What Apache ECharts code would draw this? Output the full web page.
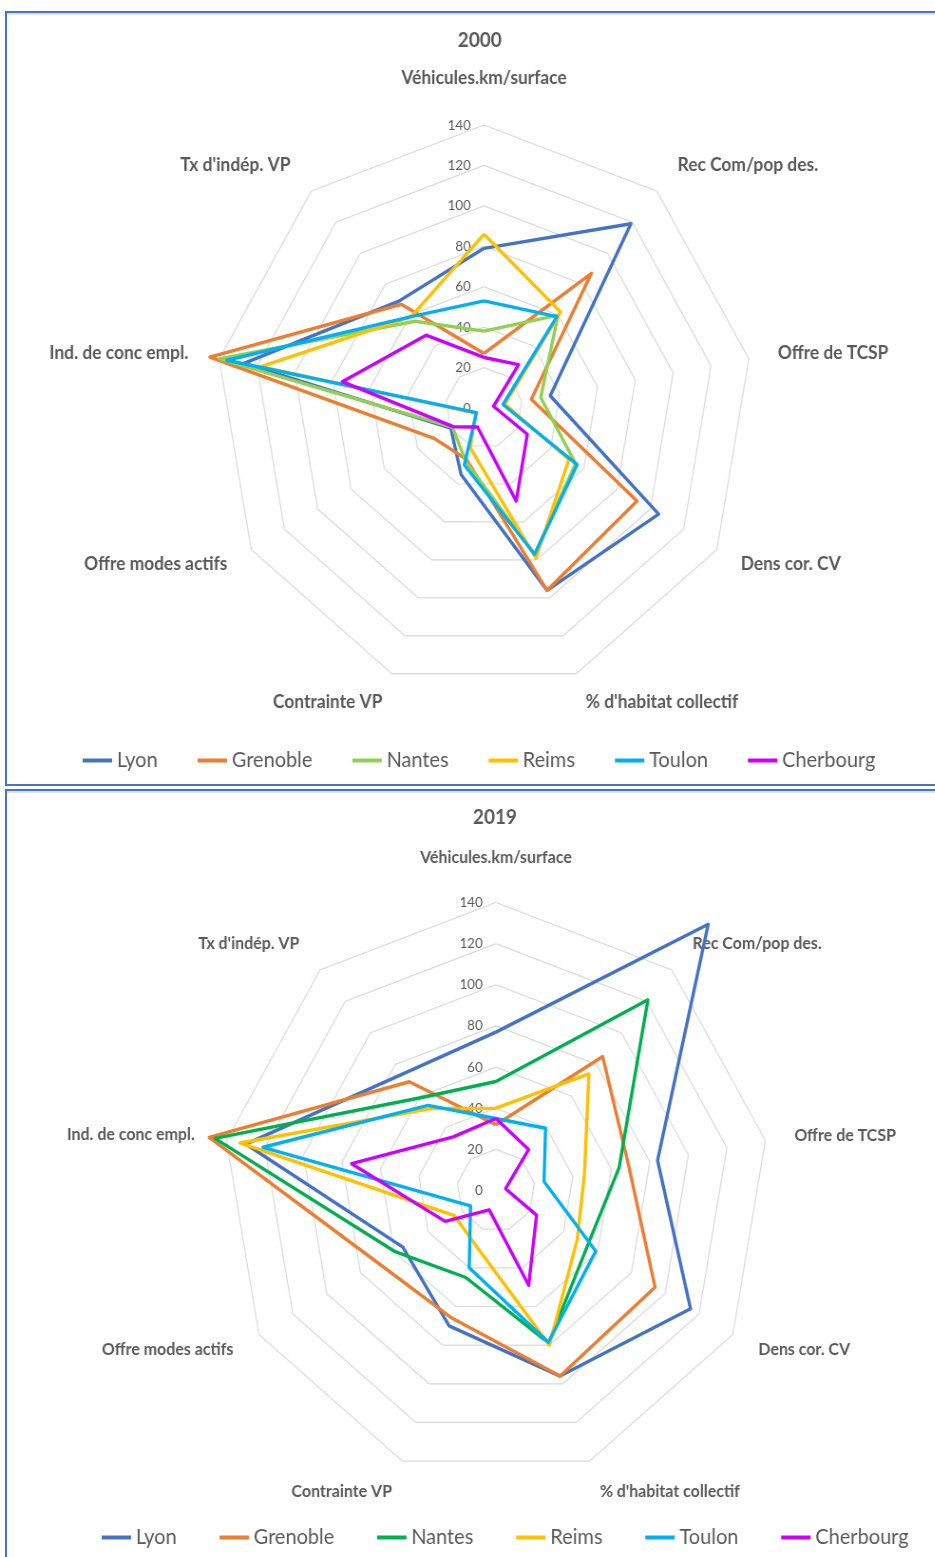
<!DOCTYPE html>
<html>
<head>
<meta charset="utf-8">
<script src="https://cdn.jsdelivr.net/npm/echarts@6/dist/echarts.min.js"></script>
<style>
  body { margin: 0; width: 935px; height: 1557px; overflow: hidden; background: #fff; }
  .panel { position: absolute; left: 5px; width: 1000px; border: 2px solid #4472C4; box-sizing: border-box;
           box-shadow: inset 0 2px 0 #e2e2e2; }
  #p1 { top: 11px; height: 775px; }
  #p2 { top: 789px; height: 820px; }
  /* the original picture is squeezed horizontally, so the charts are too */
  .chart { position: absolute; left: 0; width: 984px; transform: scaleX(0.95); transform-origin: 0 0; }
  #c1 { top: 0; height: 785px; }
  #c2 { top: 789px; height: 768px; }
</style>
</head>
<body>
<div class="panel" id="p1"></div>
<div class="panel" id="p2"></div>
<div class="chart" id="c1"></div>
<div class="chart" id="c2"></div>
<script>
// axes, dans l'ordre du graphique Excel (sens horaire depuis le haut)
const axes = ["Véhicules.km/surface", "Rec Com/pop des.", "Offre de TCSP", "Dens cor. CV",
  "% d'habitat collectif", "Contrainte VP", "Offre modes actifs", "Ind. de conc empl.", "Tx d'indép. VP"];
const villes = ["Lyon", "Grenoble", "Nantes", "Reims", "Toulon", "Cherbourg"];
const graduations = [0, 20, 40, 60, 80, 100, 120, 140];

// 2000
const lyon2000 = [79, 119, 35, 105, 96, 35, 20, 127, 69];
const grenoble2000 = [27, 87, 25, 92, 96, 27, 30, 145, 67];
const nantes2000 = [38, 60, 30, 55, 77, 28, 19, 140, 56];
const reims2000 = [86, 62, 11, 51, 79, 21, 5, 118, 59];
const toulon2000 = [53, 59, 10, 56, 77, 30, 4.5, 136, 59];
const cherbourg2000 = [25, 28, 5, 26, 49, 10, 18.5, 75, 47];

// 2019
const lyon2019 = [77, 169, 84, 115, 96, 70, 55, 130, 74];
const grenoble2019 = [32, 85, 69, 94, 96, 66, 70, 149, 69];
const nantes2019 = [53, 121, 64, 54, 79, 45, 59.5, 146, 59];
const reims2019 = [40, 74, 46, 48, 80, 29, 24.5, 133, 52];
const toulon2019 = [35, 39.5, 25, 59, 78.5, 40, 15, 121, 54];
const cherbourg2019 = [35, 26, 5, 24, 49, 10, 30, 75, 34];

const couleurs2000 = ["#4472C4", "#ED7D31", "#92D050", "#FFC000", "#00B0F0", "#CC00FF"];
const couleurs2019 = ["#4472C4", "#ED7D31", "#00B050", "#FFC000", "#00B0F0", "#CC00FF"];

// echarts tourne dans le sens anti-horaire : on inverse l'ordre après le premier axe
const ordre = [0, 8, 7, 6, 5, 4, 3, 2, 1];
const police = "Lato";
const gris = "#595959";

function buildOption(titre, series, couleurs, cfg) {
  return {
    animation: false,
    backgroundColor: "transparent",
    color: couleurs,
    title: {
      text: titre,
      left: cfg.titreX,
      top: cfg.titreY,
      textAlign: "center",
      textStyle: { fontFamily: police, fontSize: 20, fontWeight: "bold", color: gris }
    },
    legend: {
      left: cfg.legendeX,
      top: cfg.legendeY,
      icon: "rect",
      itemWidth: 31,
      itemHeight: 4,
      itemGap: cfg.legendeGap,
      selectedMode: false,
      textStyle: { fontFamily: police, fontSize: cfg.legendeTaille, color: gris },
      data: villes
    },
    radar: {
      center: cfg.centre,
      radius: cfg.rayon,
      startAngle: 90,
      shape: "polygon",
      splitNumber: graduations.length - 1,
      axisName: { color: gris, fontFamily: police, fontWeight: "bold", fontSize: cfg.nomTaille },
      axisLine: { show: false },
      axisTick: { show: false },
      axisLabel: { show: false },
      splitLine: { lineStyle: { color: "#d9d9d9", width: 1.2 } },
      splitArea: { show: false },
      indicator: ordre.map(i => {
        const ind = {
          name: axes[i],
          min: graduations[0],
          max: graduations[graduations.length - 1],
          nameGap: cfg.ecarts[i]
        };
        if (i === 0) {
          ind.axisLabel = { show: true, color: gris, fontFamily: police, fontSize: 14, margin: 14 };
        }
        return ind;
      })
    },
    series: [{
      type: "radar",
      symbol: "none",
      lineStyle: { width: 3.4 },
      data: villes.map((v, k) => ({ name: v, value: ordre.map(i => series[k][i]) }))
    }]
  };
}

const chart1 = echarts.init(document.getElementById("c1"));
chart1.setOption(buildOption("2000",
  [lyon2000, grenoble2000, nantes2000, reims2000, toulon2000, cherbourg2000], couleurs2000, {
    titreX: 500, titreY: 26,
    legendeX: 82, legendeY: 745, legendeGap: 42, legendeTaille: 21,
    centre: [509.5, 408], rayon: 283, nomTaille: 18.3,
    ecarts: [38, 34, 31, 29, 30, 30, 29, 33, 34]
  }));

const chart2 = echarts.init(document.getElementById("c2"));
chart2.setOption(buildOption("2019",
  [lyon2019, grenoble2019, nantes2019, reims2019, toulon2019, cherbourg2019], couleurs2019, {
    titreX: 516, titreY: 14,
    legendeX: 102, legendeY: 733, legendeGap: 45, legendeTaille: 21,
    centre: [522, 401.5], rayon: 288, nomTaille: 16.8,
    ecarts: [36, 34, 31, 31, 32, 32, 31, 34, 34]
  }));
</script>
</body>
</html>
